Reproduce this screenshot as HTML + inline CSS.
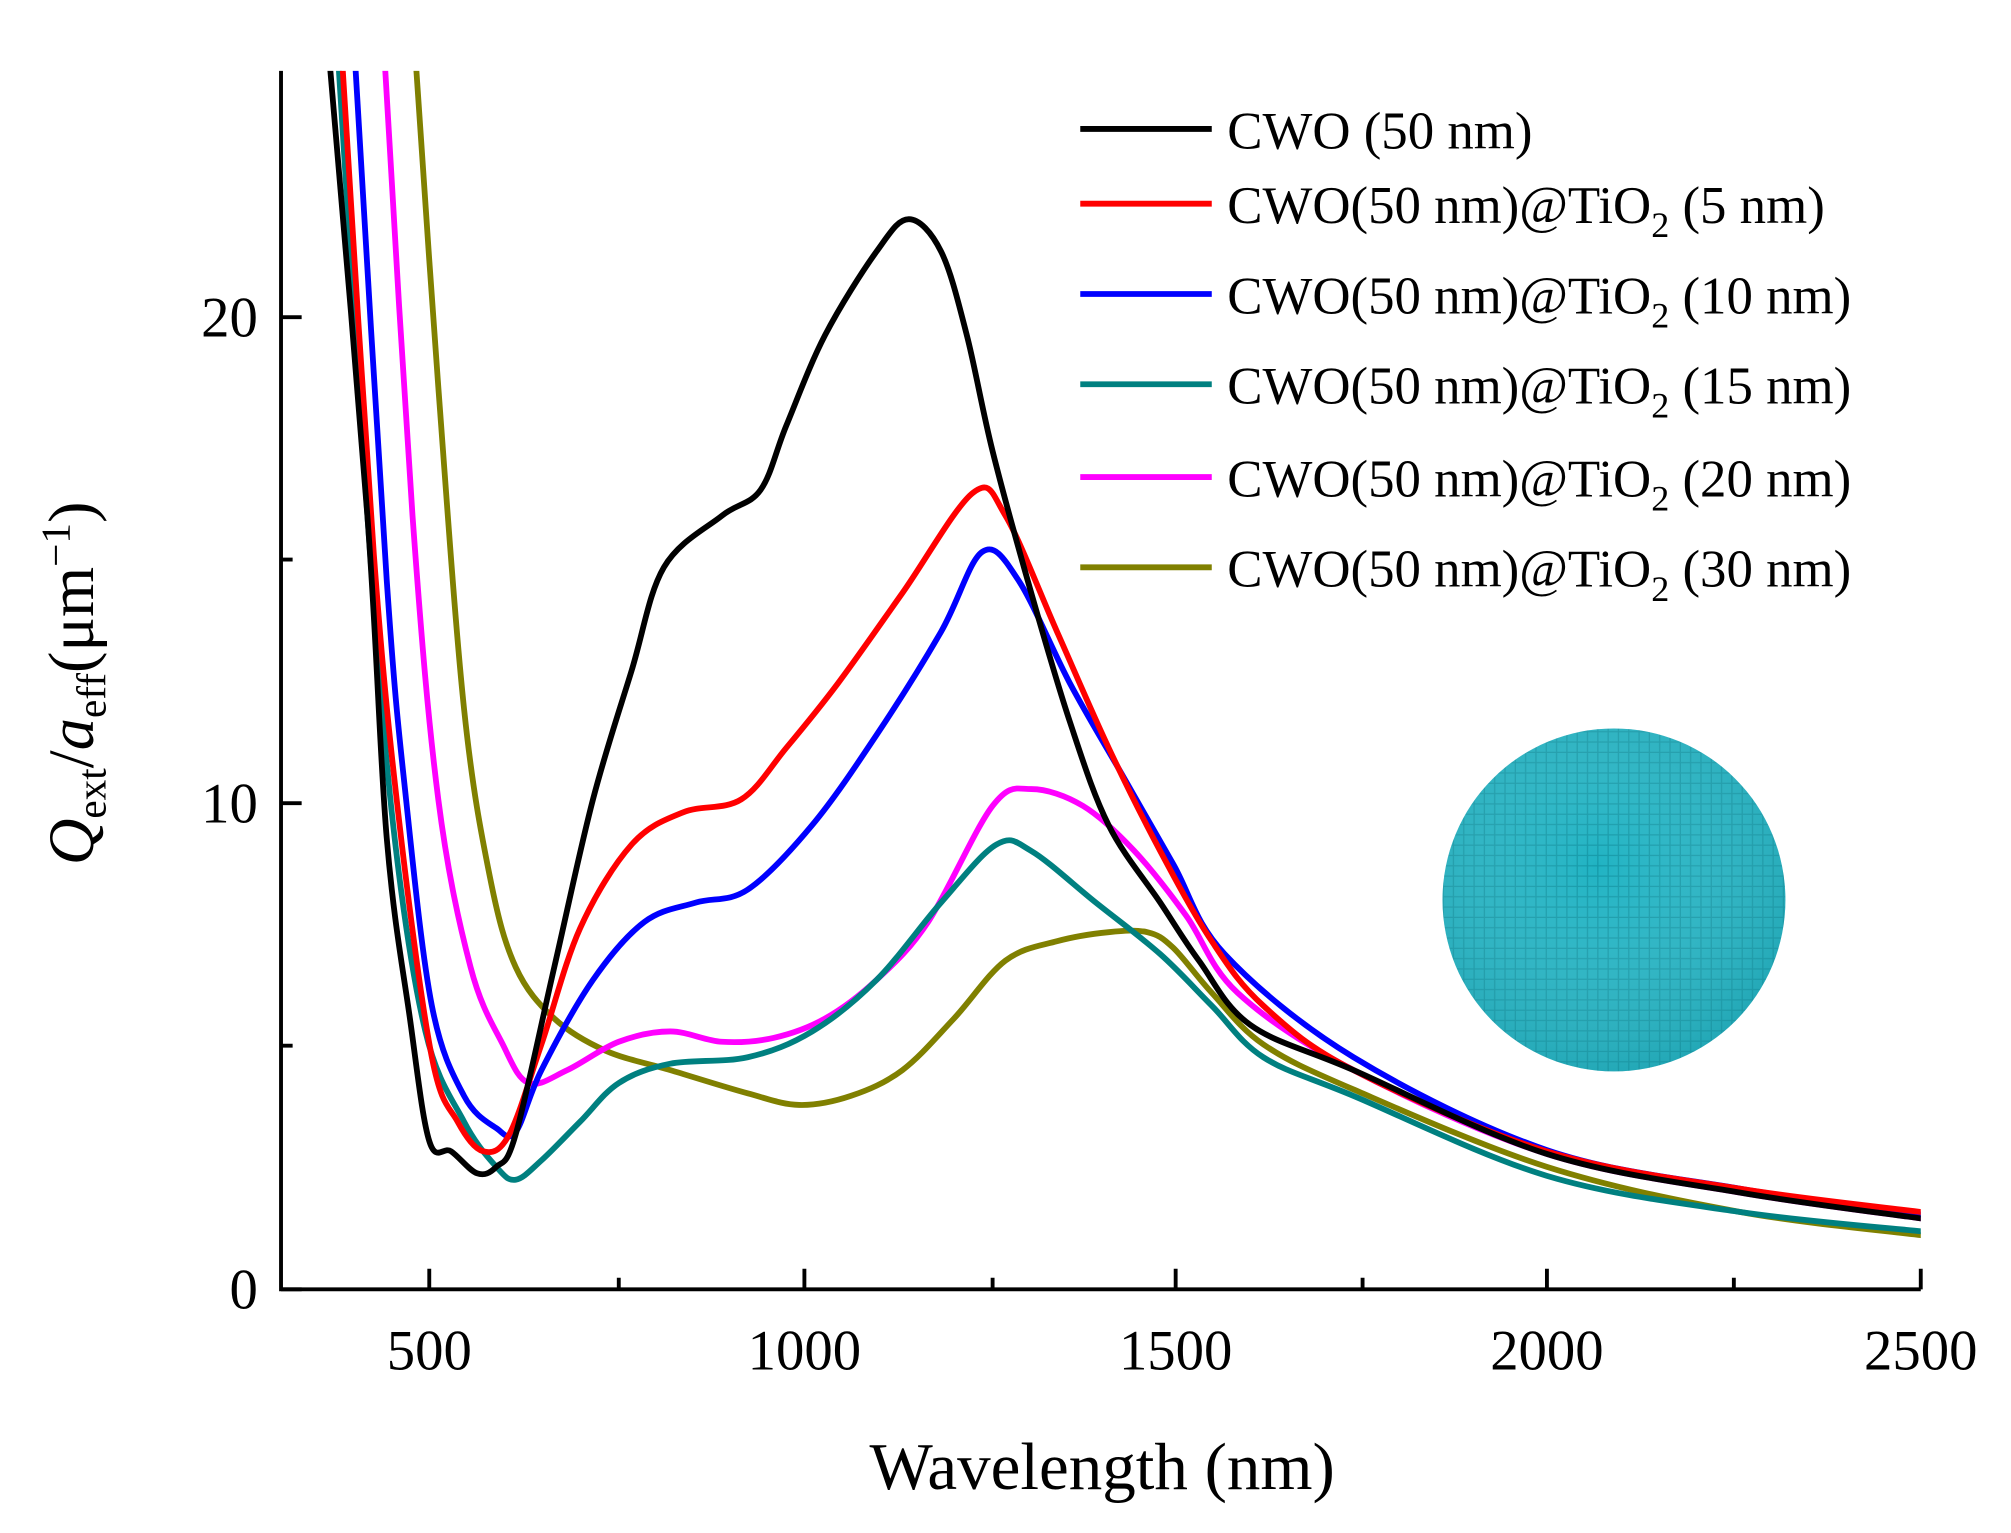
<!DOCTYPE html>
<html><head><meta charset="utf-8"><style>
html,body{margin:0;padding:0;background:#fff}
svg{display:block}
text{font-family:"Liberation Serif",serif;fill:#000}
</style></head><body>
<svg id="s" width="2011" height="1533" viewBox="0 0 1560 1189" preserveAspectRatio="none" xmlns="http://www.w3.org/2000/svg">
<defs>
<pattern id="vox" width="8" height="8" patternUnits="userSpaceOnUse">
<rect width="8" height="8" fill="#20b3c3"/>
<path d="M0 7.5H8M7.5 0V8" stroke="#139aa9" stroke-width="1"/>
</pattern>
<radialGradient id="sh" cx="0.45" cy="0.4" r="0.7">
<stop offset="0" stop-color="#fff" stop-opacity="0"/>
<stop offset="1" stop-color="#0a7f8c" stop-opacity="0.35"/>
</radialGradient>
<clipPath id="pc"><rect x="218" y="55" width="1272" height="945"/></clipPath>
</defs>
<circle cx="1252" cy="698" r="133" fill="url(#vox)"/>
<circle cx="1252" cy="698" r="133" fill="url(#sh)"/>
<g id="curves" clip-path="url(#pc)" fill="none" stroke-width="4.5" stroke-linejoin="round" stroke-linecap="round">
<polyline stroke="#808000" points="322,40 340,300 360,550 380,680 400,750 430,790 470,815 520,830 580,848 620,857 660,850 700,830 740,790 780,745 820,730 860,723 890,723 910,735 940,770 980,810 1050,845 1200,905 1350,940 1490,958"/>
<polyline stroke="#ff00ff" points="298,40 320,400 340,620 365,750 390,810 410,840 440,830 480,808 520,800 560,808 600,805 640,790 680,760 720,715 770,625 800,612 840,625 880,660 920,710 960,770 1050,830 1200,895 1350,925 1490,945"/>
<polyline stroke="#008080" points="262,40 285,400 305,640 330,800 360,870 385,905 400,915 420,900 450,870 480,840 520,825 580,820 630,800 680,760 730,700 773,655 800,660 850,700 900,740 940,780 980,820 1050,850 1200,912 1350,940 1490,955"/>
<polyline stroke="#0000ff" points="275,40 300,450 315,620 335,780 360,850 385,875 400,878 420,830 460,760 500,715 540,700 580,690 630,640 680,570 730,490 762,428 790,450 830,530 870,600 910,670 950,740 1050,820 1200,892 1350,922 1490,942"/>
<polyline stroke="#ff0000" points="265,40 290,430 310,640 335,820 355,870 375,893 395,880 420,810 450,720 490,655 530,630 575,620 610,580 650,530 700,460 755,382 780,400 820,490 860,580 900,660 940,730 980,780 1050,830 1200,893 1350,922 1490,940"/>
<polyline stroke="#000000" points="255,40 285,400 300,650 318,790 333,885 350,893 370,910 385,905 400,880 430,750 460,620 490,520 515,440 560,400 590,380 610,330 640,260 680,195 705,170 730,195 750,260 770,350 800,460 830,560 860,640 900,700 930,745 970,795 1050,830 1200,895 1350,925 1490,945"/>
</g>
<g stroke="#000" stroke-width="3" fill="none">
<path d="M218,55V1000H1490"/>
<path d="M333,1000v-16M624,1000v-16M912,1000v-16M1200,1000v-16M1490,1000v-16"/>
<path d="M480,1000v-9M770,1000v-9M1057,1000v-9M1345,1000v-9"/>
<path d="M218,246h16M218,623h16M218,1000h16M218,434h9M218,811h9"/>
</g>
<g font-size="44" text-anchor="middle">
<text x="333" y="1062">500</text><text x="624" y="1062">1000</text><text x="912" y="1062">1500</text><text x="1200" y="1062">2000</text><text x="1490" y="1062">2500</text>
</g>
<g font-size="44" text-anchor="end">
<text x="200" y="1015">0</text><text x="200" y="638">10</text><text x="200" y="261">20</text>
</g>
<text x="855" y="1155" font-size="52" text-anchor="middle">Wavelength (nm)</text>
<text transform="translate(72,530) rotate(-90)" font-size="50" text-anchor="middle"><tspan font-style="italic">Q</tspan><tspan font-size="32" dy="10">ext</tspan><tspan dy="-10">/</tspan><tspan font-style="italic">a</tspan><tspan font-size="32" dy="10">eff</tspan><tspan dy="-10">(μm</tspan><tspan font-size="32" dy="-18">−1</tspan><tspan dy="18">)</tspan></text>
<g stroke-width="4.5">
<line x1="838" y1="100" x2="940" y2="100" stroke="#000"/>
<line x1="838" y1="158" x2="940" y2="158" stroke="#f00"/>
<line x1="838" y1="228" x2="940" y2="228" stroke="#00f"/>
<line x1="838" y1="298" x2="940" y2="298" stroke="#008080"/>
<line x1="838" y1="370" x2="940" y2="370" stroke="#f0f"/>
<line x1="838" y1="440" x2="940" y2="440" stroke="#808000"/>
</g>
<g font-size="41">
<text x="952" y="115">CWO (50 nm)</text>
<text x="952" y="173">CWO(50 nm)@TiO<tspan font-size="28" dy="11">2</tspan><tspan dy="-11"> (5 nm)</tspan></text>
<text x="952" y="243">CWO(50 nm)@TiO<tspan font-size="28" dy="11">2</tspan><tspan dy="-11"> (10 nm)</tspan></text>
<text x="952" y="313">CWO(50 nm)@TiO<tspan font-size="28" dy="11">2</tspan><tspan dy="-11"> (15 nm)</tspan></text>
<text x="952" y="385">CWO(50 nm)@TiO<tspan font-size="28" dy="11">2</tspan><tspan dy="-11"> (20 nm)</tspan></text>
<text x="952" y="455">CWO(50 nm)@TiO<tspan font-size="28" dy="11">2</tspan><tspan dy="-11"> (30 nm)</tspan></text>
</g>
</svg>
<script>
document.querySelectorAll('#curves polyline').forEach(function(pl){
 var p=pl.getAttribute('points').trim().split(/\s+/).map(function(s){return s.split(',').map(Number);});
 var d='M'+p[0][0]+','+p[0][1];
 for(var i=0;i<p.length-1;i++){
  var p0=p[i-1]||p[i],p1=p[i],p2=p[i+1],p3=p[i+2]||p2;
  var c1=[p1[0]+(p2[0]-p0[0])/6,p1[1]+(p2[1]-p0[1])/6];
  var c2=[p2[0]-(p3[0]-p1[0])/6,p2[1]-(p3[1]-p1[1])/6];
  d+=' C'+c1[0]+','+c1[1]+' '+c2[0]+','+c2[1]+' '+p2[0]+','+p2[1];
 }
 var path=document.createElementNS('http://www.w3.org/2000/svg','path');
 path.setAttribute('d',d);path.setAttribute('stroke',pl.getAttribute('stroke'));
 pl.parentNode.replaceChild(path,pl);
});
</script>
</body></html>
